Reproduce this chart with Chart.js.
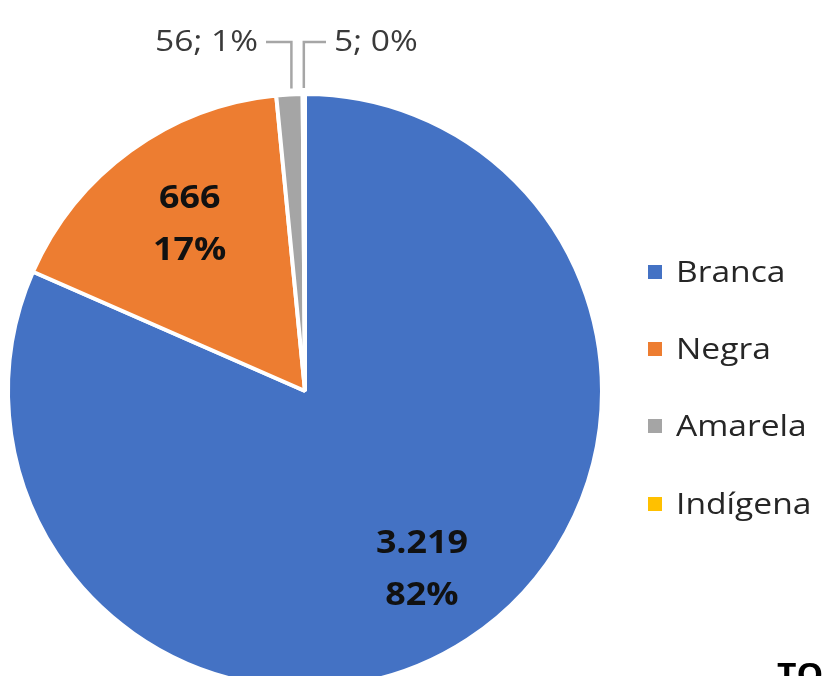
<!DOCTYPE html>
<html lang="pt">
<head>
  <meta charset="UTF-8">
  <script src="https://cdn.jsdelivr.net/npm/chart.js"></script>
  <title>pie</title>
</head>
<style>
  body{
    margin: 0;
    background: #fff;
  }
  .wrap{
    width: 822px;
    height: 676px;
    overflow: hidden;
    position: relative;
  }
</style>
<body>
  <div class="wrap">
    <canvas id="piechart" width="822" height="700"></canvas>
  </div>
  <script>
    const categorias = ['Branca', 'Negra', 'Amarela', 'Indígena'];
    const valores = [3219, 666, 56, 5];
    const rotulos = ['3.219', '666', '56', '5'];
    const percentuais = ['82%', '17%', '1%', '0%'];
    const cores = ['#4472C4', '#ED7D31', '#A5A5A5', '#FFC000'];

    // draw text a little wider, the source font is wider than what we have
    function texto(ctx, s, x, y, align) {
      var sx = 1.12;
      ctx.save();
      ctx.translate(x, y);
      ctx.scale(sx, 1);
      ctx.textAlign = align;
      ctx.fillText(s, 0, 0);
      ctx.restore();
    }

    const rotulosPlugin = {
      id: 'rotulos',
      afterDatasetsDraw(chart) {
        var ctx = chart.ctx;
        var arcs = chart.getDatasetMeta(0).data;
        ctx.save();
        ctx.textBaseline = 'middle';
        arcs.forEach(function (arc, i) {
          var p = arc.getProps(['x', 'y', 'startAngle', 'endAngle', 'outerRadius']);
          var mid = (p.startAngle + p.endAngle) / 2;
          if (i < 2) {
            // inside labels, bold two lines
            var r = p.outerRadius * (i == 0 ? 0.72 : 0.69);
            var cx = p.x + Math.cos(mid) * r;
            var cy = p.y + Math.sin(mid) * r;
            ctx.fillStyle = '#111';
            ctx.font = 'bold 32px "Open Sans"';
            texto(ctx, rotulos[i], cx + (i == 1 ? 5 : 0), cy - 26, 'center');
            texto(ctx, percentuais[i], cx + (i == 1 ? 5 : 0), cy + 26, 'center');
          } else {
            // outside labels with leader lines
            var ex = p.x + Math.cos(mid) * p.outerRadius;
            var ey = p.y + Math.sin(mid) * p.outerRadius;
            var ly = 42;
            ctx.strokeStyle = '#A6A6A6';
            ctx.lineWidth = 2.5;
            ctx.beginPath();
            ctx.moveTo(ex + (i == 2 ? 2 : 0), ey - 6);
            ctx.lineTo(ex + (i == 2 ? 2 : 0), ly);
            ctx.lineTo(i == 2 ? 266 : 326, ly);
            ctx.stroke();
            ctx.fillStyle = '#3a3a3a';
            ctx.font = '30px "Open Sans"';
            var s = rotulos[i] + '; ' + percentuais[i];
            if (i == 2) texto(ctx, s, 258, ly, 'right');
            else texto(ctx, s, 334, ly, 'left');
          }
        });

        // legend on the right
        var ys = [272, 349, 426, 504];
        ctx.font = '30px "Open Sans"';
        categorias.forEach(function (c, i) {
          ctx.fillStyle = cores[i];
          ctx.fillRect(648, ys[i] - 7, 14, 14);
          ctx.fillStyle = '#262626';
          texto(ctx, c, 676, ys[i] + 1, 'left');
        });

        // cut off text at the bottom corner
        ctx.fillStyle = '#000';
        ctx.font = 'bold 30px "Open Sans"';
        ctx.textBaseline = 'alphabetic';
        texto(ctx, 'TOTAL', 777, 685, 'left');
        ctx.restore();
      }
    };

    var ctx = document.getElementById('piechart').getContext('2d');
    var chart = new Chart(ctx, {
      type: 'pie',
      data: {
        labels: categorias,
        datasets: [{
          data: valores,
          backgroundColor: cores,
          borderColor: '#fff',
          borderWidth: 4,
          hoverOffset: 0
        }]
      },
      options: {
        responsive: false,
        animation: false,
        devicePixelRatio: 1,
        layout: {
          padding: { left: 6, top: 91, right: 218, bottom: 9 }
        },
        plugins: {
          legend: { display: false },
          tooltip: { enabled: false }
        }
      },
      plugins: [rotulosPlugin]
    });
  </script>
</body>
</html>
